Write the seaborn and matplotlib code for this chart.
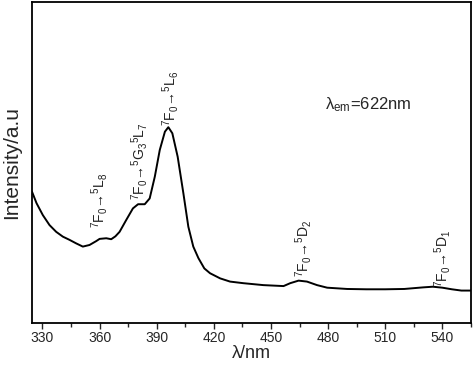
import numpy as np
import pandas as pd
import matplotlib
matplotlib.use('Agg')
import matplotlib.pyplot as plt
from matplotlib.ticker import MultipleLocator
import seaborn as sns

# Excitation spectrum, values (arbitrary units)
wavelength = [324.5, 326.9, 330.2, 333.7, 337.2, 340.7, 344.2, 347.7, 351.2, 354.7,
              358.2, 360, 363.5, 366.1, 368.3, 370.5, 374, 377.5, 380.2, 383.7, 386.3,
              389, 391.6, 394.3, 396.1, 398.2, 401, 404, 406.6, 409.2, 411.9, 415,
              418, 423.3, 428.5, 435.5, 446, 456.6, 460.1, 464.5, 468.9, 474.2, 479.5,
              490, 500, 510, 520, 530, 535, 540, 545, 550, 555]
intensity = [40.9, 37.3, 33.6, 30.5, 28.4, 26.9, 25.9, 24.8, 23.8, 24.3,
             25.5, 26.2, 26.4, 26.1, 27.0, 28.4, 32.1, 35.7, 37.0, 37.0, 38.8,
             45.6, 53.9, 59.6, 61.0, 59.1, 51.8, 40.4, 30.0, 23.8, 20.2, 17.0,
             15.5, 13.9, 12.9, 12.4, 11.8, 11.5, 12.4, 13.2, 12.9, 11.8, 11.0,
             10.6, 10.5, 10.5, 10.6, 11.1, 11.3, 11.0, 10.5, 10.1, 10.1]

# Transition labels and where they sit (wavelength, baseline intensity)
labels = [r'$^{7}$F$_{0}$→$^{5}$L$_{8}$',
          r'$^{7}$F$_{0}$→$^{5}$G$_{3}$$^{5}$L$_{7}$',
          r'$^{7}$F$_{0}$→$^{5}$L$_{6}$',
          r'$^{7}$F$_{0}$→$^{5}$D$_{2}$',
          r'$^{7}$F$_{0}$→$^{5}$D$_{1}$']
label_x = [360, 381, 397, 467, 540]
label_y = [29.6, 38.3, 61.4, 14.3, 11.2]

df = pd.DataFrame({'wavelength': wavelength, 'intensity': intensity})

sns.set_style('white')
plt.rcParams['font.family'] = ['Liberation Sans', 'DejaVu Sans']
plt.rcParams['mathtext.fontset'] = 'custom'
plt.rcParams['mathtext.rm'] = 'Liberation Sans'
plt.rcParams['mathtext.it'] = 'Liberation Sans'

fig = plt.figure(figsize=(4.74, 3.68), dpi=100)
ax = fig.add_axes([0.0675, 0.1223, 0.926, 0.8723])

sns.lineplot(data=df, x='wavelength', y='intensity', ax=ax, color='black', linewidth=1.4)

for lab, lx, ly in zip(labels, label_x, label_y):
    ax.text(lx, ly, lab, rotation=90, ha='center', va='bottom', fontsize=10, color='#222222')

ax.text(0.667, 0.68, r'λ$_{\rm em}$=622nm', transform=ax.transAxes, fontsize=12,
        ha='left', va='center')

ax.set_xlim(324.5, 555)
ax.set_ylim(0, 100)
ax.xaxis.set_major_locator(MultipleLocator(30))
ax.xaxis.set_minor_locator(MultipleLocator(15))
ax.set_yticks([])
ax.tick_params(axis='x', which='major', direction='out', length=4, width=1, labelsize=10, pad=2, bottom=True)
ax.tick_params(axis='x', which='minor', direction='out', length=3, width=1, bottom=True)
for s in ax.spines.values():
    s.set_linewidth(1.3)
    s.set_color('black')
ax.set_xlabel('λ/nm', fontsize=13, labelpad=0)
ax.set_ylabel('Intensity/a.u', fontsize=15, labelpad=8)

fig.savefig('out.png', dpi=100)
